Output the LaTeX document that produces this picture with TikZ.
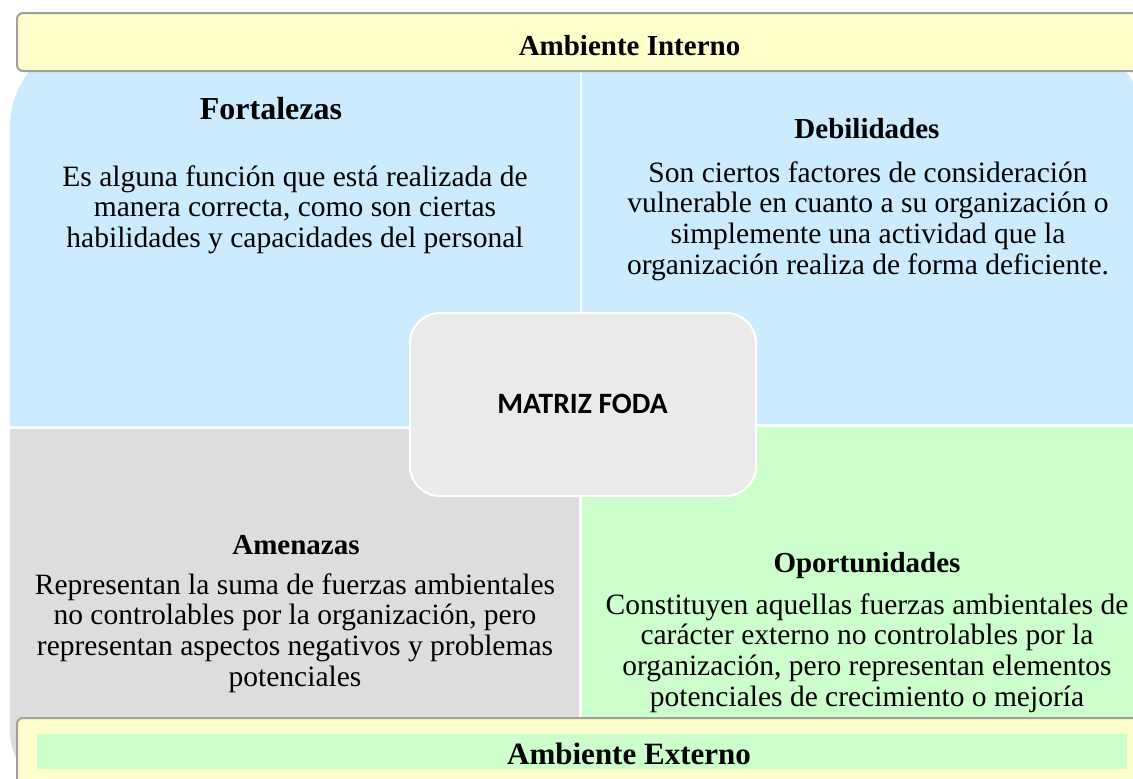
\documentclass[tikz,border=0pt]{standalone}
\usepackage{fontspec}
\setmainfont{Liberation Serif}
\newfontfamily\calib{Carlito}
\definecolor{qblue}{HTML}{CCEBFF}
\definecolor{qgray}{HTML}{DDDDDD}
\definecolor{qgreen}{HTML}{CCFFCC}
\definecolor{qyellow}{HTML}{FFFFCC}
\definecolor{qcenter}{HTML}{EAEAEA}
\definecolor{qborder}{HTML}{A0A0A0}
\newcommand{\bodylines}[1]{\begin{tabular}[t]{@{}c@{}}#1\end{tabular}}
\tikzset{
  headtxt/.style={font=\fontsize{29}{32}\selectfont\bfseries, inner sep=0pt, anchor=base},
  bodytxt/.style={font=\fontsize{29.5}{30.7}\selectfont, inner sep=0pt, anchor=base},
  bar/.style={fill=qyellow, draw=qborder, line width=2pt, rounded corners=6pt},
}
\begin{document}
\begin{tikzpicture}[x=1pt,y=-1pt]
\useasboundingbox (0,0) rectangle (1133,779);
\clip (0,0) rectangle (1133,779);
% quadrants
\fill[qblue] (580,426) -- (10,426) -- (10,127) .. controls (10,77.3) and (50.3,37) .. (100,37) -- (580,37) -- cycle;
\fill[qblue] (582,424) -- (582,37) -- (1055,37) .. controls (1104.7,37) and (1145,77.3) .. (1145,127) -- (1145,424) -- cycle;
\fill[qgray] (579,429) -- (10,429) -- (10,730) .. controls (10,767) and (40,797) .. (77,797) -- (579,797) -- cycle;
\fill[qgreen] (582,427) -- (1145,427) -- (1145,797) -- (582,797) -- cycle;
% bars
\path[bar] (17,13) rectangle (1242,71);
\node[headtxt] (ai) at (629.5,55) {Ambiente Interno};
\path[bar] (17,718) rectangle (1242,800);
\fill[qgreen] (37,734) rectangle (1127,769);
\node[headtxt, font=\fontsize{31}{34}\selectfont\bfseries] (ae) at (629,764) {Ambiente Externo};
% center
\node[fill=qcenter, draw=white, line width=2pt, rounded corners=30pt, minimum width=346pt, minimum height=183pt] (foda) at (583,404.5) {};
\node[font=\calib\fontsize{29.5}{32}\selectfont\bfseries, inner sep=0pt, anchor=base] (fodatxt) at (582.5,413) {MATRIZ FODA};
% texts
\node[headtxt, font=\fontsize{32}{36}\selectfont\bfseries] (fh) at (271,119) {Fortalezas};
\node[bodytxt] (fb) at (295,186) {\bodylines{Es alguna función que está realizada de\\manera correcta, como son ciertas\\habilidades y capacidades del personal}};
\node[headtxt] (dh) at (867,138.5) {Debilidades};
\node[bodytxt] (db) at (868,182) {\bodylines{Son ciertos factores de consideración\\vulnerable en cuanto a su organización o\\simplemente una actividad que la\\organización realiza de forma deficiente.}};
\node[headtxt] (ah) at (296,554) {Amenazas};
\node[bodytxt] (ab) at (295,594) {\bodylines{Representan la suma de fuerzas ambientales\\no controlables por la organización, pero\\representan aspectos negativos y problemas\\potenciales}};
\node[headtxt] (oh) at (867,572) {Oportunidades};
\node[bodytxt] (ob) at (867,614) {\bodylines{Constituyen aquellas fuerzas ambientales de\\carácter externo no controlables por la\\organización, pero representan elementos\\potenciales de crecimiento o mejoría}};
\end{tikzpicture}
\end{document}
